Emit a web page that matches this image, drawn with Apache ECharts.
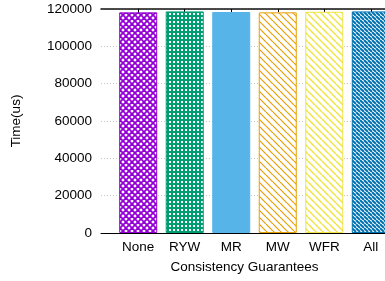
<!DOCTYPE html>
<html>
<head>
<meta charset="utf-8">
<script src="https://cdn.jsdelivr.net/npm/echarts@6/dist/echarts.min.js"></script>
<style>
  html, body { margin: 0; padding: 0; background: #fff; }
  #chart { width: 385px; height: 281px; }
</style>
</head>
<body>
<div id="chart"></div>
<script>
// data
const categories = ['None', 'RYW', 'MR', 'MW', 'WFR', 'All'];
const times = [118200, 118700, 118400, 118200, 118500, 118700];
const yMin = 0, yMax = 120000, yStep = 20000;
const positions = [0, 1, 2, 3, 4, 5];

// small canvas tiles used as fill patterns
function tile(size, draw) {
  const c = document.createElement('canvas');
  c.width = c.height = size;
  draw(c.getContext('2d'), size);
  return c;
}
function hatch(color, size, width, cross) {
  return tile(size, function (g, s) {
    g.fillStyle = '#fff';
    g.fillRect(0, 0, s, s);
    g.strokeStyle = color;
    g.lineWidth = width;
    for (const k of [-s, 0, s]) {
      g.beginPath(); g.moveTo(k, 0); g.lineTo(k + s, s); g.stroke();
      if (cross) { g.beginPath(); g.moveTo(k, s); g.lineTo(k + s, 0); g.stroke(); }
    }
  });
}
const dots = tile(4, function (g, s) {
  g.fillStyle = '#009E73';
  g.fillRect(0, 0, s, s);
  g.fillStyle = '#fff';
  g.fillRect(1, 1, 2, 2);
});

const fills = [
  { color: { image: hatch('#9400D3', 6, 1.8, true), repeat: 'repeat' }, border: '#9400D3' },
  { color: { image: dots, repeat: 'repeat' }, border: '#009E73' },
  { color: '#56B4E9', border: '#56B4E9' },
  { color: { image: hatch('#E69F00', 7, 1.2, false), repeat: 'repeat' }, border: '#E69F00' },
  { color: { image: hatch('#F0E442', 7, 1.5, false), repeat: 'repeat' }, border: '#F0E442' },
  { color: { image: hatch('#0072B2', 4, 2, false), repeat: 'repeat' }, border: '#0072B2' }
];

const font = 'Liberation Sans';
const chart = echarts.init(document.getElementById('chart'));
chart.setOption({
  animation: false,
  textStyle: { fontFamily: font },
  grid: { left: 101, top: 9, width: 287, height: 224, outerBoundsMode: 'none' },
  xAxis: [{
    type: 'value',
    min: -0.8, max: 5.37,
    name: 'Consistency Guarantees',
    nameLocation: 'middle',
    nameGap: 27,
    nameTextStyle: { fontSize: 13.5, color: '#000', fontFamily: font },
    axisLine: { show: true, onZero: false, lineStyle: { color: '#000', width: 1 } },
    axisTick: { show: false },
    splitLine: { show: false },
    axisLabel: {
      customValues: positions,
      margin: 7,
      fontSize: 13.5, color: '#000', fontFamily: font,
      formatter: function (v) { return categories[Math.round(v)]; }
    }
  }, {
    type: 'value',
    position: 'top',
    min: -0.8, max: 5.37,
    axisLine: { show: true, onZero: false, lineStyle: { color: '#111', width: 1.5 } },
    axisTick: { show: true, inside: true, length: 3, customValues: positions, lineStyle: { color: '#000' } },
    axisLabel: { show: false },
    splitLine: { show: false }
  }],
  yAxis: {
    type: 'value',
    min: yMin, max: yMax, interval: yStep,
    name: 'Time(us)',
    nameLocation: 'middle',
    nameGap: 78,
    nameTextStyle: { fontSize: 13.5, color: '#000', fontFamily: font },
    axisLine: { show: true, lineStyle: { color: '#000', width: 1 } },
    axisTick: { show: false },
    axisLabel: {
      margin: 9, fontSize: 13.5, color: '#000', fontFamily: font,
      formatter: function (v) { return String(v); }
    },
    splitLine: { show: true, lineStyle: { color: '#c4c4c4', type: [1, 2], width: 1 } }
  },
  series: [{
    type: 'bar',
    barWidth: 38,
    data: positions.map(function (p, i) {
      return {
        value: [p, times[i]],
        itemStyle: { color: fills[i].color, borderColor: fills[i].border, borderWidth: 1 }
      };
    })
  }]
});
</script>
</body>
</html>
